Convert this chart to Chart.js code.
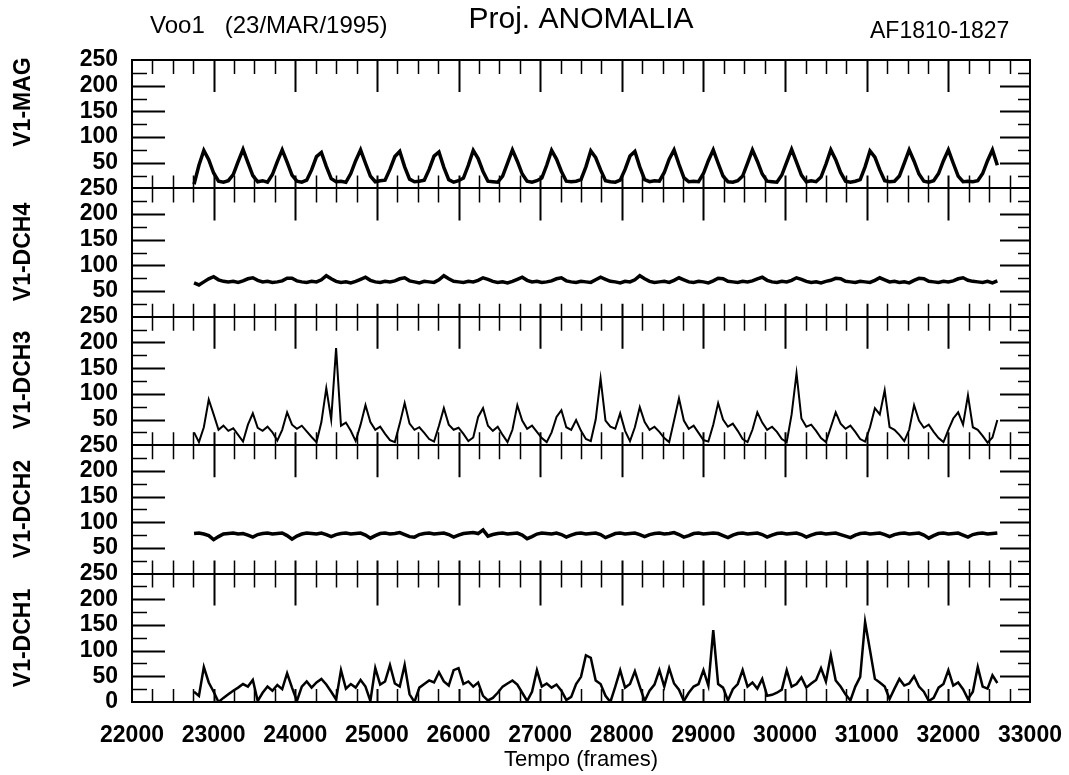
<!DOCTYPE html>
<html>
<head>
<meta charset="utf-8">
<script src="https://cdn.jsdelivr.net/npm/chart.js@4.4.1/dist/chart.umd.min.js"></script>
<style>
  html, body { margin: 0; background: #fff; }
</style>
</head>
<body>
<canvas id="chart" width="1069" height="775"></canvas>
<script>
// sampling grid of the traces (frames)
const frameStart = 22760;
const frameStep  = 60;

const xTicks = [22000, 23000, 24000, 25000, 26000, 27000, 28000, 29000, 30000, 31000, 32000, 33000];
const yTicks = [0, 50, 100, 150, 200, 250];
const panelNames = ['V1-MAG', 'V1-DCH4', 'V1-DCH3', 'V1-DCH2', 'V1-DCH1'];

// values, one every frameStep frames
const mag = [
  8,45,74,56,30,14,12,15,27,52, 76,50,25,13,15,12,27,52,75,51,
  26,14,12,16,36,62,70,43,19,13, 14,12,29,54,75,49,24,13,15,16,
  37,62,72,42,18,13,14,16,37,63, 71,41,17,12,15,20,45,74,58,33,
  14,13,12,24,49,75,53,28,14,12, 15,20,45,74,57,33,14,13,14,17,
  42,73,60,36,15,13,12,16,37,63, 72,42,17,13,15,14,31,57,75,47,
  21,13,14,13,29,54,75,49,24,13, 12,15,24,49,75,53,28,14,13,12,
  26,51,76,51,26,13,15,13,22,47, 75,56,31,14,12,14,17,42,73,61,
  36,15,13,14,24,49,75,53,28,14, 12,15,29,54,75,49,24,13,14,13,
  15,29,54,75,45
];
const dch4 = [
  66,62,68,74,78,72,69,68,69,67, 70,74,76,71,68,69,67,68,70,75,
  75,70,68,67,69,68,72,80,74,69, 67,68,66,69,73,77,71,68,67,69,
  68,70,74,76,70,68,66,69,68,67, 72,80,74,69,68,67,69,68,71,76,
  73,69,67,68,66,69,73,77,71,68, 69,67,68,70,74,76,70,68,67,69,
  68,67,72,77,73,69,68,66,69,68, 72,80,74,69,67,68,69,67,71,76,
  72,68,67,69,68,66,70,75,74,69, 68,67,69,68,70,74,77,71,68,67,
  69,68,71,76,73,69,67,68,66,69, 71,75,74,69,68,67,69,68,67,71,
  76,72,68,69,67,68,66,71,75,74, 69,68,67,69,68,70,74,76,71,69,
  68,67,69,66,70
];
const dch3 = [
  25,6,35,89,60,30,38,28,33,20, 7,40,62,34,28,36,25,9,30,64,
  40,32,38,27,16,6,45,111,50,189, 38,44,28,8,40,78,45,30,36,22,
  10,6,42,82,42,30,35,24,12,7, 38,72,40,30,34,22,8,15,55,72,
  38,28,36,20,6,30,78,48,32,38, 26,14,6,25,55,68,35,30,49,28,
  12,8,50,130,48,36,32,62,28,8, 35,74,45,30,36,26,14,6,48,91,
  48,32,38,24,10,7,40,82,50,36, 42,28,12,6,30,64,44,30,36,26,
  12,6,60,140,52,36,40,28,14,6, 35,64,42,32,38,26,12,7,35,72,
  60,107,35,30,20,8,30,78,48,34, 40,26,14,6,30,52,64,40,97,35,
  30,18,5,15,49
];
const dch2 = [
  78,79,77,74,66,72,77,78,79,77, 78,75,71,76,78,79,77,78,79,74,
  67,73,77,79,78,77,79,76,72,76, 78,79,77,78,79,75,69,74,78,79,
  77,78,80,76,72,71,76,78,79,77, 78,79,76,71,75,78,79,80,78,85,
  73,76,78,79,77,78,79,75,68,72, 77,79,78,77,79,76,71,75,78,79,
  77,78,79,76,70,74,78,79,77,78, 79,76,72,76,78,79,77,78,80,76,
  71,74,78,79,77,78,79,78,74,70, 75,78,79,77,78,79,76,71,75,78,
  79,77,78,79,76,71,75,78,79,77, 78,79,76,73,70,75,78,79,77,78,
  79,76,72,76,78,79,77,78,79,75, 69,74,78,79,77,78,79,75,71,76,
  78,79,77,78,79
];
const dch1 = [
  20,12,68,38,20,0,8,15,22,28, 35,30,43,2,18,30,22,33,25,56,
  28,2,30,40,28,38,45,34,20,5, 62,26,35,28,43,30,2,66,34,40,
  72,36,30,72,15,0,28,35,42,38, 58,40,32,62,66,35,40,30,38,12,
  3,8,18,30,36,42,34,18,2,20, 62,30,36,28,34,22,4,10,35,49,
  91,86,42,35,12,0,30,62,28,35, 60,30,2,22,34,62,30,66,36,24,
  2,18,30,35,62,32,140,35,28,3, 25,35,62,30,38,26,45,12,14,18,
  24,62,30,35,48,28,36,43,66,40, 91,42,30,15,3,30,49,156,101,45,
  38,30,6,26,45,32,36,50,30,20, 2,8,28,35,62,32,38,25,6,20,
  68,30,26,52,37
];

const series = [mag, dch4, dch3, dch2, dch1];
const lineWidths = [3.5, 3.5, 2, 3.5, 2.5];
const panelIds = ['yMag', 'yDch4', 'yDch3', 'yDch2', 'yDch1'];
const labelCenters = [102, 252, 380, 509, 638];   // side label positions (px)

Chart.defaults.font.family = '"Liberation Sans", Arial, sans-serif';
Chart.defaults.color = '#000';

const toPoints = arr => arr.map((v, i) => ({ x: frameStart + i * frameStep, y: v }));

const scales = {
  x: {
    type: 'linear', min: 22000, max: 33000,
    afterBuildTicks: s => { s.ticks = xTicks.map(v => ({ value: v })); },
    afterFit: s => { s.height = 73; s.paddingLeft = 0; s.paddingRight = 0; },
    ticks: {
      autoSkip: false, maxRotation: 0, padding: 12,
      font: { size: 23, weight: 'bold' },
      callback: v => String(v)
    },
    grid: { display: false },
    border: { display: true, color: '#000', width: 2 },
    title: { display: true, text: 'Tempo (frames)', font: { size: 22 }, padding: { top: 0, bottom: 2 } }
  }
};
panelIds.forEach((id, i) => {
  scales[id] = {
    type: 'linear', position: 'left', stack: 'panels', stackWeight: 1, weight: 5 - i,
    min: 0, max: 250,
    afterBuildTicks: s => { s.ticks = yTicks.map(v => ({ value: v })); },
    afterFit: s => { s.width = 132; },
    ticks: {
      autoSkip: false, padding: 14,
      font: { size: 23, weight: 'bold' },
      callback: v => (v === 0 && i < panelIds.length - 1) ? '' : v
    },
    grid: {
      drawTicks: false, lineWidth: 2,
      color: c => (c.tick && c.tick.value === 0) ? '#000' : 'rgba(0,0,0,0)'
    },
    border: { display: true, color: '#000', width: 2 }
  };
});

// inward ticks, frame and texts of the old plotter sheet
const sheet = {
  id: 'sheet',
  afterDraw(chart) {
    const { ctx, chartArea: a, scales: sc } = chart;
    const xs = sc.x;
    ctx.save();
    ctx.strokeStyle = '#000';
    ctx.lineWidth = 2;
    ctx.strokeRect(a.left, a.top, a.right - a.left, a.bottom - a.top);

    panelIds.forEach(id => {
      const s = sc[id];
      for (let f = 22250; f < 33000; f += 250) {
        const px = Math.round(xs.getPixelForValue(f)) + 0.5;
        const major = f % 1000 === 0;
        ctx.lineWidth = major ? 2 : 1.5;
        ctx.beginPath();
        ctx.moveTo(px, s.top);    ctx.lineTo(px, s.top + (major ? 32 : 14));
        ctx.moveTo(px, s.bottom); ctx.lineTo(px, s.bottom - 13);
        ctx.stroke();
      }
      for (let v = 25; v < 250; v += 25) {
        const py = Math.round(s.getPixelForValue(v)) + 0.5;
        const major = v % 50 === 0;
        ctx.lineWidth = major ? 2 : 1.5;
        ctx.beginPath();
        ctx.moveTo(a.left, py);  ctx.lineTo(a.left + (major ? 33 : 15), py);
        ctx.moveTo(a.right, py); ctx.lineTo(a.right - (major ? 30 : 12), py);
        ctx.stroke();
      }
    });

    ctx.fillStyle = '#000';
    ctx.textBaseline = 'alphabetic';
    ctx.textAlign = 'left';
    ctx.font = '24px "Liberation Sans", Arial, sans-serif';
    ctx.fillText('Voo1   (23/MAR/1995)', 150, 33);
    ctx.font = '23px "Liberation Sans", Arial, sans-serif';
    ctx.fillText('AF1810-1827', 870, 38);
    ctx.textAlign = 'center';
    ctx.font = '30px "Liberation Sans", Arial, sans-serif';
    ctx.fillText('Proj. ANOMALIA', (a.left + a.right) / 2, 28);

    ctx.font = 'bold 23px "Liberation Sans", Arial, sans-serif';
    ctx.textBaseline = 'middle';
    panelNames.forEach((name, i) => {
      ctx.save();
      ctx.translate(24, labelCenters[i]);
      ctx.rotate(-Math.PI / 2);
      ctx.fillText(name, 0, 0);
      ctx.restore();
    });
    ctx.restore();
  }
};

new Chart(document.getElementById('chart'), {
  type: 'line',
  data: {
    datasets: series.map((arr, i) => ({
      label: panelNames[i],
      data: toPoints(arr),
      yAxisID: panelIds[i],
      borderColor: '#000',
      borderWidth: lineWidths[i],
      pointRadius: 0,
      tension: 0,
      fill: false
    }))
  },
  options: {
    responsive: false,
    animation: false,
    devicePixelRatio: 1,
    parsing: false,
    layout: { padding: { top: 60, right: 39, bottom: 0, left: 0 } },
    plugins: { legend: { display: false }, tooltip: { enabled: false } },
    scales
  },
  plugins: [sheet]
});
</script>
</body>
</html>
